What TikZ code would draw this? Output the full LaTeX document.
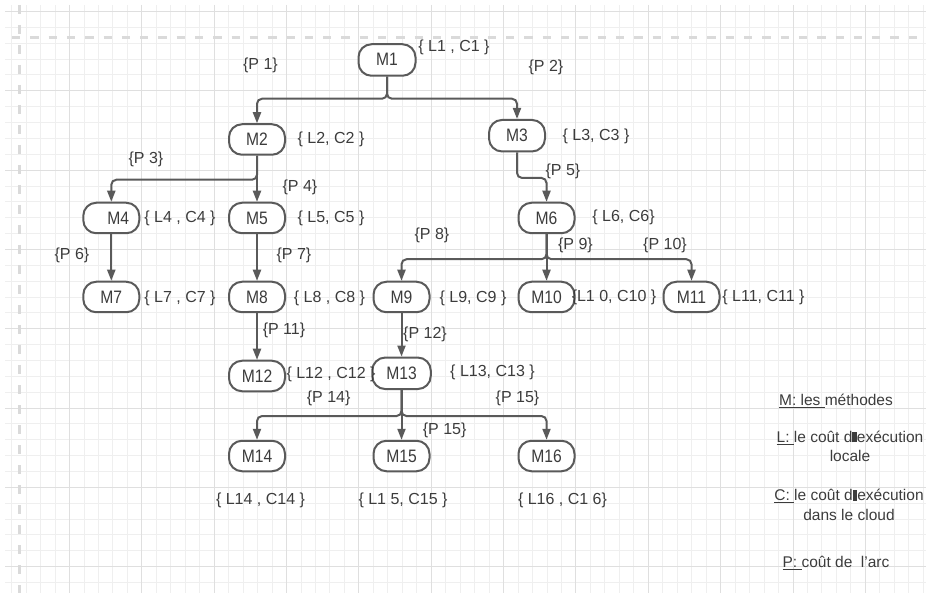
\documentclass[tikz,border=0pt]{standalone}
\usepackage{fontspec}
\setmainfont{Liberation Sans}
\newfontfamily\boxfont{Liberation Sans}[FakeStretch=0.87]
\usetikzlibrary{arrows.meta}
\definecolor{ink}{HTML}{3C3C3C}
\definecolor{edge}{HTML}{5A5A5A}
\definecolor{gridminor}{HTML}{EFEFEF}
\definecolor{gridmajor}{HTML}{DFDFDF}
\definecolor{dashgray}{HTML}{DADADA}

\begin{document}
\begin{tikzpicture}[x=1pt,y=-1pt,
  method/.style={draw=edge, line width=2pt, rounded corners=13pt,
    minimum width=56pt, minimum height=30.5pt, inner sep=0pt, fill=white,
    text=ink, font=\boxfont\fontsize{18}{20}\selectfont},
  cost/.style={text=ink, inner sep=0pt, font=\fontsize{16}{19}\selectfont},
  weight/.style={cost},
  legend/.style={text=ink, inner sep=0pt, align=center,
    font=\fontsize{15.5}{19.5}\selectfont},
  conn/.style={draw=edge, line width=2pt, rounded corners=5pt,
    -{Triangle[length=11pt,width=8pt]}},
  minorline/.style={draw=gridminor, line width=0.9pt},
  majorline/.style={draw=gridmajor, line width=0.9pt},
  guide/.style={draw=dashgray, line width=3pt},
]
\useasboundingbox (0,0) rectangle (926,593);

% background grid
\foreach \k in {0,...,63} \draw[minorline] ({11.6+14.47*\k},5) -- ({11.6+14.47*\k},593);
\foreach \k in {0,...,36} \draw[minorline] (5,{11.5+15.86*\k}) -- (926,{11.5+15.86*\k});
\foreach \k in {4,9,...,59} \draw[majorline] ({11.6+14.47*\k},5) -- ({11.6+14.47*\k},593);
\foreach \k in {0,5,...,35} \draw[majorline] (5,{11.5+15.86*\k}) -- (926,{11.5+15.86*\k});

% page guides
\draw[guide, dash pattern=on 8.3pt off 10pt] (12,37.7) -- (926,37.7);
\draw[guide, dash pattern=on 9pt off 11pt] (19.3,5) -- (19.3,593);

% methods
\node[method, minimum width=57pt, minimum height=31.5pt] (M1) at (387,60) {\raisebox{2pt}{M1}};
\node[method] (M2) at (257,139.5) {M2};
\node[method, minimum height=31.5pt] (M3) at (517,135.7) {M3};
\node[method] (M4) at (111.3,218) {\hspace*{14pt}M4};
\node[method] (M5) at (257,218) {M5};
\node[method] (M6) at (546.5,218) {M6};
\node[method] (M7) at (111.3,297) {M7};
\node[method] (M8) at (257,297) {M8};
\node[method] (M9) at (401.5,297) {M9};
\node[method] (M10) at (546.5,297) {M10};
\node[method] (M11) at (691.5,297) {M11};
\node[method] (M12) at (257,376) {M12};
\node[method, minimum width=58.5pt, minimum height=31.5pt] (M13) at (401.5,373.3) {\raisebox{1pt}{M13}};
\node[method] (M14) at (257,456) {M14};
\node[method] (M15) at (401.5,456) {M15};
\node[method] (M16) at (546.5,456) {M16};

% calls
\draw[conn] (M1.south) -- ++(0,22) -| (M2.north);
\draw[conn] (M1.south) -- ++(0,22) -| (M3.north);
\draw[conn] (M2.south) -- ++(0,24) -| (M4.north);
\draw[conn] (M2.south) -- (M5.north);
\draw[conn] (M3.south) -- ++(0,25.5) -| (M6.north);
\draw[conn] (M4.south) -- (M7.north);
\draw[conn] (M5.south) -- (M8.north);
\draw[conn] (M6.south) -- ++(0,25) -| (M9.north);
\draw[conn] (M6.south) -- (M10.north);
\draw[conn] (M6.south) -- ++(0,25) -| (M11.north);
\draw[conn] (M8.south) -- (M12.north);
\draw[conn] (M9.south) -- (M13.north);
\draw[conn] (M13.south) -- ++(0,26) -| (M14.north);
\draw[conn] (M13.south) -- (M15.north);
\draw[conn] (M13.south) -- ++(0,26) -| (M16.north);

% local / cloud costs
\node[cost] (c1) at (454,47) {\{ L1 , C1 \}};
\node[cost] (c2) at (331,139) {\{ L2, C2 \}};
\node[cost] (c3) at (596,136) {\{ L3, C3 \}};
\node[cost] (c4) at (180,218) {\{ L4 , C4 \}};
\node[cost] (c5) at (331,218) {\{ L5, C5 \}};
\node[cost] (c6) at (623.5,217) {\{ L6, C6\}};
\node[cost] (c7) at (180,298) {\{ L7 , C7 \}};
\node[cost] (c8) at (329.5,298) {\{ L8 , C8 \}};
\node[cost] (c9) at (473,298) {\{ L9, C9 \}};
\node[cost] (c10) at (614,297) {\{L1 0, C10 \}};
\node[cost] (c11) at (763.5,297) {\{ L11, C11 \}};
\node[cost] (c12) at (331,374) {\{ L12 , C12 \}};
\node[cost] (c13) at (492.5,372) {\{ L13, C13 \}};
\node[cost] (c14) at (260.5,500) {\{ L14 , C14 \}};
\node[cost] (c15) at (403,500) {\{ L1 5, C15 \}};
\node[cost] (c16) at (562.5,500) {\{ L16 , C1 6\}};

% arc costs
\node[weight] (p1) at (260.5,65.7) {\{P 1\}};
\node[weight] (p2) at (546,67) {\{P 2\}};
\node[weight] (p3) at (146,159) {\{P 3\}};
\node[weight] (p4) at (300,187) {\{P 4\}};
\node[weight] (p5) at (563,171) {\{P 5\}};
\node[weight] (p6) at (72,255) {\{P 6\}};
\node[weight] (p7) at (294,255) {\{P 7\}};
\node[weight] (p8) at (432,235) {\{P 8\}};
\node[weight] (p9) at (575.5,245) {\{P 9\}};
\node[weight] (p10) at (665,245) {\{P 10\}};
\node[weight] (p11) at (284,330) {\{P 11\}};
\node[weight] (p12) at (425,334) {\{P 12\}};
\node[weight] (p14) at (328.7,398) {\{P 14\}};
\node[weight] (p15a) at (517.5,398) {\{P 15\}};
\node[weight] (p15b) at (444.7,430) {\{P 15\}};

% legend
\node[legend] (lgM) at (836,401) {\underline{M: les\ }méthodes};
\node[legend] (lgL) at (850,446.5) {\underline{L:\ }le coût d\rule{4.5pt}{10.5pt}exécution\\locale};
\node[legend] (lgC) at (849,505) {\underline{C:\ }le coût d\rule{4.5pt}{10.5pt}exécution\\dans le cloud};
\node[legend] (lgP) at (836,562.7) {\underline{P:\ }coût de\ \ l'arc};
\end{tikzpicture}
\end{document}
